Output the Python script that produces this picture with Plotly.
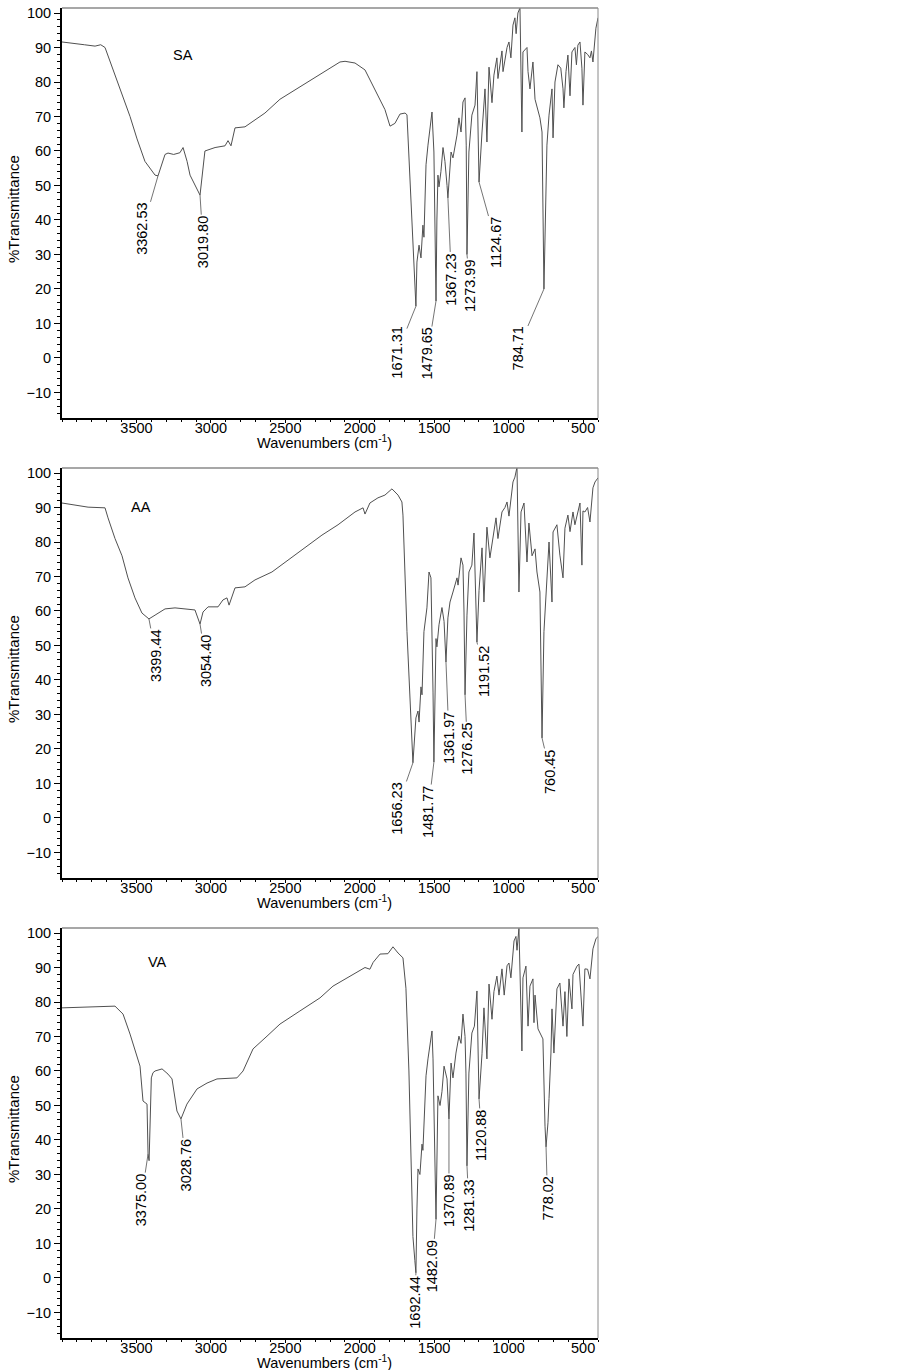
import plotly.graph_objects as go

# ---------------- data ----------------
sa_wn = [4000, 3900, 3850, 3778, 3740, 3711, 3678, 3610, 3543, 3496, 3443, 3375, 3355, 3308, 3288, 3250, 3208, 3187,
         3160, 3140, 3073, 3040, 2972, 2905, 2885, 2865, 2838, 2771, 2704, 2637, 2536, 2402, 2267, 2133, 2099, 2032,
         1965, 1898, 1831, 1797, 1764, 1730, 1696, 1683, 1623, 1616, 1602, 1589, 1582, 1576, 1569, 1555, 1542, 1515,
         1502, 1495, 1488, 1482, 1475, 1468, 1455, 1441, 1428, 1414, 1408, 1387, 1374, 1347, 1334, 1320, 1307, 1293,
         1285, 1280, 1267, 1247, 1226, 1213, 1205, 1199, 1179, 1159, 1146, 1132, 1112, 1099, 1079, 1072, 1045, 1038,
         1011, 998, 985, 971, 958, 950, 938, 924, 911, 904, 877, 870, 857, 837, 823, 810, 790, 776, 770, 763, 743, 729,
         709, 702, 689, 669, 650, 635, 629, 615, 602, 588, 575, 555, 545, 535, 521, 508, 501, 488, 470, 454, 444, 434,
         414, 400]
sa_t = [91.6, 91.2, 90.8, 90.4, 90.8, 90.0, 86.0, 78.0, 70.0, 63.5, 57.0, 53.0, 52.8, 59.0, 59.4, 59.0, 59.5, 61.0,
        57.0, 53.0, 47.2, 60.0, 61.0, 61.5, 63.0, 61.5, 66.7, 67.0, 69.0, 71.0, 75.0, 78.6, 82.0, 85.8, 86.0, 85.5,
        83.5, 77.7, 72.0, 67.2, 68.0, 70.7, 71.0, 70.5, 15.0, 27.8, 32.7, 29.0, 36.5, 38.5, 35.0, 56.0, 61.7, 71.3,
        59.7, 36.5, 16.5, 40.0, 53.0, 49.6, 54.0, 61.0, 57.0, 50.0, 46.4, 59.7, 58.0, 64.6, 69.6, 65.5, 74.2, 75.4,
        61.7, 30.0, 59.7, 70.4, 73.3, 83.0, 63.8, 51.0, 65.5, 78.0, 62.6, 84.3, 74.0, 82.0, 87.0, 81.0, 89.0, 83.0,
        90.0, 91.6, 87.0, 96.5, 98.6, 94.0, 100.0, 101.5, 65.5, 88.7, 90.0, 83.0, 78.0, 85.8, 75.0, 72.5, 69.6, 65.5,
        50.0, 20.0, 61.7, 70.4, 78.0, 63.8, 80.0, 85.0, 84.0, 78.0, 72.5, 83.0, 87.8, 76.0, 88.7, 90.0, 85.0, 90.7,
        91.6, 84.0, 73.3, 88.7, 88.0, 87.0, 89.0, 85.8, 95.6, 98.6]

aa_wn = [4000, 3825, 3711, 3691, 3644, 3597, 3557, 3510, 3463, 3416, 3375, 3308, 3241, 3154, 3107, 3073, 3053, 3019,
         2952, 2919, 2892, 2878, 2838, 2771, 2704, 2590, 2482, 2368, 2254, 2146, 2032, 1978, 1965, 1932, 1878, 1831,
         1784, 1743, 1717, 1710, 1683, 1643, 1623, 1609, 1602, 1589, 1582, 1569, 1549, 1535, 1522, 1508, 1502, 1488,
         1482, 1468, 1448, 1434, 1421, 1408, 1394, 1374, 1347, 1340, 1320, 1307, 1300, 1293, 1280, 1267, 1247, 1233,
         1220, 1213, 1199, 1179, 1166, 1146, 1126, 1105, 1085, 1072, 1045, 1025, 1011, 998, 971, 958, 944, 931, 917,
         897, 877, 864, 843, 823, 810, 790, 776, 763, 743, 729, 709, 702, 676, 656, 635, 622, 602, 588, 568, 555, 521,
         508, 501, 488, 470, 454, 434, 420, 400]
aa_t = [91.3, 90.1, 89.9, 87.0, 81.0, 76.0, 69.6, 63.8, 59.4, 57.7, 58.8, 60.6, 60.9, 60.6, 60.3, 56.2, 59.7, 61.2,
        61.2, 63.2, 63.8, 61.7, 66.7, 67.0, 69.0, 71.3, 74.8, 78.3, 82.0, 85.0, 88.7, 89.9, 88.1, 91.3, 92.8, 93.6,
        95.4, 93.6, 91.6, 87.8, 54.0, 16.0, 29.0, 31.0, 27.8, 38.0, 35.7, 54.0, 60.9, 71.3, 69.6, 36.5, 16.2, 52.0,
        49.6, 56.0, 61.0, 57.0, 45.2, 58.0, 62.6, 65.5, 69.6, 67.5, 75.4, 73.3, 59.7, 35.7, 58.8, 71.3, 73.3, 82.6,
        64.6, 51.0, 66.0, 78.3, 62.6, 84.3, 75.4, 82.0, 87.0, 81.0, 88.7, 90.0, 91.6, 87.5, 97.4, 98.8, 101.7, 65.5,
        88.7, 91.3, 74.2, 85.5, 76.0, 78.0, 71.3, 65.5, 23.2, 54.0, 68.0, 80.0, 62.6, 82.9, 85.0, 76.2, 69.6, 84.0,
        87.8, 83.0, 88.7, 85.0, 91.3, 73.3, 89.0, 88.7, 90.0, 85.8, 95.7, 97.4, 98.6]

va_wn = [4000, 3870, 3745, 3644, 3590, 3543, 3476, 3456, 3429, 3422, 3415, 3409, 3400, 3389, 3375, 3328, 3288, 3261,
         3228, 3201, 3161, 3093, 3026, 2959, 2825, 2784, 2717, 2623, 2536, 2402, 2267, 2180, 2066, 1965, 1932, 1910,
         1864, 1811, 1777, 1743, 1710, 1690, 1670, 1643, 1630, 1623, 1616, 1609, 1596, 1582, 1576, 1555, 1542, 1515,
         1508, 1495, 1488, 1475, 1461, 1448, 1434, 1414, 1401, 1387, 1374, 1354, 1334, 1320, 1307, 1293, 1287, 1280,
         1267, 1247, 1230, 1213, 1206, 1199, 1179, 1166, 1146, 1132, 1112, 1099, 1079, 1065, 1045, 1030, 1011, 998,
         985, 964, 951, 944, 931, 911, 904, 884, 870, 857, 837, 830, 823, 803, 770, 763, 756, 749, 736, 729, 716, 709,
         696, 676, 656, 635, 622, 609, 595, 575, 568, 541, 528, 501, 488, 470, 454, 434, 414, 400]
va_t = [78.3, 78.5, 78.6, 78.8, 76.5, 70.7, 61.4, 51.3, 50.4, 35.9, 34.0, 45.0, 58.0, 59.5, 60.0, 60.6, 59.1, 57.7,
        48.4, 46.1, 50.4, 54.8, 56.5, 57.7, 58.0, 60.0, 66.4, 70.1, 73.6, 77.4, 81.2, 84.6, 87.5, 90.0, 89.5, 91.5,
        93.9, 94.0, 96.0, 94.2, 92.8, 84.0, 60.0, 12.0, 5.0, 1.5, 20.0, 31.6, 30.0, 38.8, 37.0, 58.6, 63.5, 71.6,
        63.5, 36.2, 17.0, 52.8, 50.0, 54.0, 61.4, 57.7, 46.1, 62.3, 58.0, 65.2, 70.1, 68.0, 76.5, 70.0, 59.4, 32.5,
        59.4, 71.0, 73.0, 83.2, 65.2, 51.9, 65.0, 78.3, 63.5, 85.2, 75.0, 83.0, 87.5, 82.0, 89.6, 82.0, 90.5, 91.3,
        87.0, 97.7, 99.0, 95.0, 101.4, 65.8, 87.0, 90.4, 73.0, 84.6, 86.7, 74.0, 82.0, 72.2, 69.3, 55.0, 44.0, 38.0,
        45.0, 52.0, 65.2, 78.0, 65.2, 83.8, 85.5, 73.0, 83.0, 70.0, 86.7, 78.0, 88.0, 90.4, 91.0, 73.0, 89.6, 89.5,
        86.7, 95.4, 98.3, 99.0]

sample_names = ["SA", "AA", "VA"]

sa_peak_text = ["3362.53", "3019.80", "1671.31", "1479.65", "1367.23", "1273.99", "1124.67", "784.71"]
sa_peak_wn = [3355, 3073, 1623, 1488, 1408, 1280, 1199, 763]
sa_peak_t = [52.8, 47.2, 15.0, 16.5, 46.4, 30.0, 51.0, 20.0]

aa_peak_text = ["3399.44", "3054.40", "1656.23", "1481.77", "1361.97", "1276.25", "1191.52", "760.45"]
aa_peak_wn = [3416, 3073, 1643, 1502, 1421, 1293, 1213, 776]
aa_peak_t = [57.7, 56.2, 16.0, 16.2, 45.2, 35.7, 51.0, 23.2]

va_peak_text = ["3375.00", "3028.76", "1692.44", "1482.09", "1370.89", "1281.33", "1120.88", "778.02"]
va_peak_wn = [3422, 3201, 1623, 1488, 1401, 1280, 1199, 749]
va_peak_t = [35.9, 46.1, 1.5, 17.0, 46.1, 32.5, 51.9, 38.0]

x_ticks = [3500, 3000, 2500, 2000, 1500, 1000, 500]
y_ticks = [-10, 0, 10, 20, 30, 40, 50, 60, 70, 80, 90, 100]

# ---------------- layout helpers (pixel offsets of label text from peak) ----------------
sa_off = [(-15.5, 53.5), (3, 47), (-18.5, 46), (-8.5, 53), (3.5, 81.5), (3, 31.5), (17, 61), (-25.5, 59)]
aa_off = [(7, 37), (6, 37), (-16, 46), (-6, 50), (3, 76), (2.5, 54.5), (6.5, 29.5), (8, 34)]
va_off = [(-7, 46), (5, 46.5), (-1, 30), (-4, 47), (0, 82), (2, 40), (2.5, 36.5), (1.5, 52)]

FONT = "Liberation Sans, Arial, sans-serif"
W, H = 900, 1370
panels_px = [(8, 418), (468, 878), (928, 1338)]
name_pos = [(183, 55), (141, 507), (157, 962)]

fig = go.Figure()
spectra = [(sa_wn, sa_t), (aa_wn, aa_t), (va_wn, va_t)]
peaks = [(sa_peak_text, sa_peak_wn, sa_peak_t, sa_off),
         (aa_peak_text, aa_peak_wn, aa_peak_t, aa_off),
         (va_peak_text, va_peak_wn, va_peak_t, va_off)]

annotations = []
shapes = []
for i in range(3):
    xa = "x" if i == 0 else f"x{i+1}"
    ya = "y" if i == 0 else f"y{i+1}"
    wn, t = spectra[i]
    fig.add_trace(go.Scatter(x=wn, y=t, mode="lines", xaxis=xa, yaxis=ya,
                             line=dict(color="#505050", width=1), showlegend=False,
                             hoverinfo="skip"))
    top, bot = panels_px[i]
    dom = [1 - bot / H, 1 - top / H]
    xkey = "xaxis" if i == 0 else f"xaxis{i+1}"
    ykey = "yaxis" if i == 0 else f"yaxis{i+1}"
    fig.update_layout(**{
        xkey: dict(domain=[0, 1], anchor=ya, range=[4000, 400], tickvals=x_ticks,
                   ticktext=[str(v) for v in x_ticks], ticks="outside", ticklen=3,
                   tickcolor="black", showline=True, linecolor="black", linewidth=2,
                   showgrid=False, zeroline=False, automargin=False, ticklabelstandoff=-7,
                   minor=dict(dtick=100, ticks="outside", ticklen=2, tickcolor="black", tick0=0),
                   tickfont=dict(family=FONT, size=14.5, color="black")),
        ykey: dict(domain=dom, anchor=xa, range=[-17.4, 101.45], tickvals=y_ticks,
                   ticks="outside", ticklen=6, tickcolor="black", showline=True,
                   linecolor="black", linewidth=2, showgrid=False, zeroline=False,
                   automargin=False,
                   minor=dict(dtick=2, tick0=0, ticks="outside", ticklen=3, tickcolor="black"),
                   tickfont=dict(family=FONT, size=14.5, color="black")),
    })
    xd = f"{xa} domain"
    yd = f"{ya} domain"
    # thin grey top/right frame
    shapes.append(dict(type="line", xref=xd, yref=yd, x0=0, x1=1, y0=1, y1=1,
                       line=dict(color="#8a8a8a", width=1.3)))
    shapes.append(dict(type="line", xref=xd, yref=yd, x0=1, x1=1, y0=0, y1=1,
                       line=dict(color="#8a8a8a", width=1)))
    # axis titles
    annotations.append(dict(xref=xd, yref=yd, x=(324 - 62) / 536, y=-(442 - 418) / 410,
                            text="Wavenumbers (cm<sup>-1</sup>)", showarrow=False,
                            xanchor="center", yanchor="middle",
                            font=dict(family=FONT, size=14.5, color="black")))
    annotations.append(dict(xref=xd, yref=yd, x=(13 - 62) / 536, y=0.5 + (213 - 209) / 410,
                            text="%Transmittance", showarrow=False, textangle=-90,
                            xanchor="center", yanchor="middle",
                            font=dict(family=FONT, size=15, color="black")))
    # sample name
    nx, ny = name_pos[i]
    annotations.append(dict(xref=xd, yref=yd, x=(nx - 62) / 536, y=(bot - ny) / 410,
                            text=sample_names[i], showarrow=False, xanchor="center",
                            yanchor="middle", font=dict(family=FONT, size=14.5, color="black")))
    # peak labels
    txt, pw, pt, off = peaks[i]
    for k in range(len(txt)):
        dx, dy = off[k]
        annotations.append(dict(xref=xa, yref=ya, x=pw[k], y=pt[k], text=txt[k],
                                textangle=-90, showarrow=True, arrowhead=0, arrowwidth=0.8,
                                arrowcolor="#505050", ax=dx, ay=dy, standoff=0,
                                font=dict(family=FONT, size=14.5, color="black")))

fig.update_layout(width=W, height=H, margin=dict(l=62, r=302, t=0, b=0, autoexpand=False),
                  paper_bgcolor="white", plot_bgcolor="white",
                  annotations=annotations, shapes=shapes, showlegend=False)

fig.write_html("out.html", config={"displayModeBar": False},
               post_script="document.body.style.margin='0px';document.body.style.padding='0px';")
